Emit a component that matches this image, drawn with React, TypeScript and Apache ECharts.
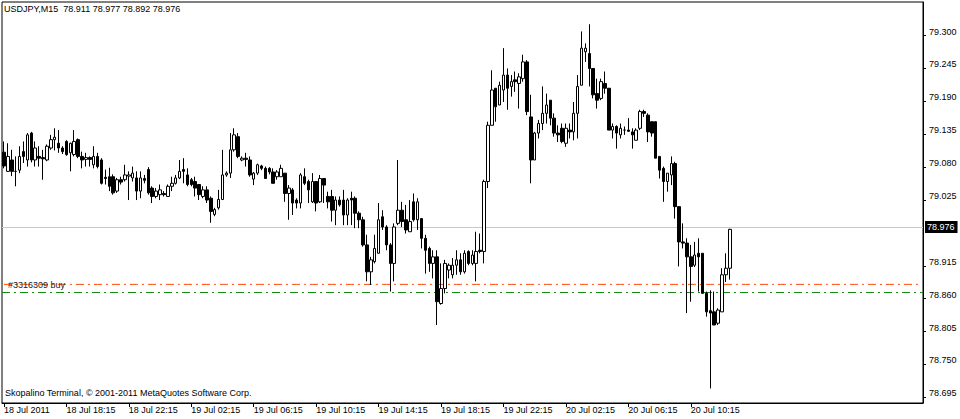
import React, { useEffect, useRef } from "react";
import * as echarts from "echarts";

const symbolTitle = "USDJPY,M15  78.911 78.977 78.892 78.976";
const copyright = "Skopalino Terminal, © 2001-2011 MetaQuotes Software Corp.";

const tickLabels = [
  "18 Jul 2011", "18 Jul 18:15", "18 Jul 22:15", "19 Jul 02:15", "19 Jul 06:15", "19 Jul 10:15",
  "19 Jul 14:15", "19 Jul 18:15", "19 Jul 22:15", "20 Jul 02:15", "20 Jul 06:15", "20 Jul 10:15",
];
const priceTicks = [78.695, 78.75, 78.805, 78.86, 78.915, 79.025, 79.08, 79.135, 79.19, 79.245, 79.3];

const opens = [
  79.105, 79.073, 79.092, 79.073, 79.075, 79.106, 79.092, 79.137, 79.092, 79.098,
  79.096, 79.092, 79.112, 79.126, 79.120, 79.112, 79.123, 79.104, 79.101, 79.126,
  79.098, 79.093, 79.096, 79.084, 79.098, 79.092, 79.063, 79.064, 79.064, 79.040,
  79.059, 79.059, 79.065, 79.062, 79.062, 79.040, 79.061, 79.076, 79.045, 79.031,
  79.034, 79.036, 79.031, 79.048, 79.053, 79.062, 79.076, 79.067, 79.059, 79.056,
  79.051, 79.031, 79.042, 79.028, 79.001, 79.012, 79.026, 79.067, 79.070, 79.109,
  79.131, 79.092, 79.095, 79.092, 79.060, 79.070, 79.082, 79.078, 79.078, 79.072,
  79.064, 79.064, 79.070, 79.036, 79.042, 79.025, 79.020, 79.064, 79.056, 79.022,
  79.056, 79.022, 79.061, 79.031, 79.031, 79.008, 79.025, 79.025, 79.000, 79.028,
  79.028, 79.003, 78.992, 78.950, 78.905, 78.922, 78.936, 78.997, 78.980, 78.950,
  78.919, 78.986, 79.008, 78.992, 78.972, 79.022, 78.992, 78.994, 78.961, 78.944,
  78.919, 78.930, 78.852, 78.877, 78.908, 78.900, 78.916, 78.925, 78.905, 78.939,
  78.919, 78.919, 78.941, 78.939, 79.056, 79.150, 79.212, 79.184, 79.209, 79.234,
  79.215, 79.226, 79.220, 79.228, 79.256, 79.164, 79.092, 79.137, 79.153, 79.170,
  79.192, 79.162, 79.137, 79.145, 79.120, 79.142, 79.139, 79.170, 79.217, 79.273,
  79.270, 79.245, 79.203, 79.195, 79.220, 79.212, 79.142, 79.148, 79.134, 79.142,
  79.142, 79.139, 79.125, 79.145, 79.173, 79.167, 79.156, 79.156, 79.098, 79.078,
  79.056, 79.067, 79.086, 79.014, 78.955, 78.953, 78.930, 78.916, 78.936, 78.936,
  78.869, 78.840, 78.838, 78.819, 78.838, 78.900, 78.911,
];
const highs = [
  79.123, 79.120, 79.109, 79.098, 79.115, 79.123, 79.137, 79.139, 79.123, 79.115,
  79.109, 79.118, 79.134, 79.145, 79.142, 79.115, 79.125, 79.121, 79.142, 79.128,
  79.106, 79.104, 79.098, 79.115, 79.104, 79.095, 79.076, 79.079, 79.068, 79.062,
  79.064, 79.084, 79.073, 79.081, 79.073, 79.073, 79.067, 79.080, 79.048, 79.045,
  79.051, 79.040, 79.051, 79.064, 79.067, 79.092, 79.095, 79.078, 79.062, 79.064,
  79.051, 79.048, 79.048, 79.031, 79.012, 79.042, 79.109, 79.073, 79.137, 79.145,
  79.137, 79.098, 79.104, 79.098, 79.072, 79.086, 79.084, 79.081, 79.080, 79.078,
  79.075, 79.084, 79.070, 79.050, 79.045, 79.028, 79.070, 79.078, 79.059, 79.070,
  79.056, 79.067, 79.061, 79.039, 79.042, 79.031, 79.031, 79.042, 79.028, 79.039,
  79.031, 79.006, 78.997, 78.967, 78.930, 78.967, 79.020, 79.008, 78.983, 78.953,
  78.986, 79.092, 79.022, 79.017, 79.025, 79.036, 79.028, 78.994, 78.967, 78.947,
  78.941, 78.941, 78.919, 78.925, 78.919, 78.928, 78.941, 78.936, 78.941, 78.941,
  78.941, 78.972, 78.969, 79.059, 79.156, 79.242, 79.212, 79.223, 79.279, 79.245,
  79.234, 79.240, 79.237, 79.268, 79.259, 79.201, 79.139, 79.159, 79.215, 79.203,
  79.192, 79.170, 79.150, 79.153, 79.153, 79.153, 79.189, 79.234, 79.307, 79.287,
  79.319, 79.245, 79.228, 79.228, 79.240, 79.212, 79.153, 79.150, 79.153, 79.148,
  79.162, 79.145, 79.145, 79.176, 79.176, 79.170, 79.156, 79.156, 79.098, 79.081,
  79.070, 79.098, 79.089, 79.014, 78.986, 78.961, 78.950, 78.955, 78.961, 78.936,
  78.872, 78.874, 78.872, 78.844, 78.911, 78.936, 78.977,
];
const lows = [
  79.078, 79.072, 79.065, 79.048, 79.070, 79.087, 79.081, 79.088, 79.081, 79.081,
  79.059, 79.090, 79.109, 79.108, 79.104, 79.102, 79.099, 79.073, 79.098, 79.095,
  79.078, 79.081, 79.081, 79.078, 79.078, 79.051, 79.051, 79.040, 79.034, 79.037,
  79.051, 79.056, 79.025, 79.056, 79.025, 79.028, 79.053, 79.034, 79.020, 79.028,
  79.025, 79.031, 79.030, 79.040, 79.051, 79.060, 79.053, 79.048, 79.048, 79.031,
  79.025, 79.028, 79.020, 78.987, 78.998, 79.009, 79.025, 79.064, 79.062, 79.106,
  79.095, 79.090, 79.081, 79.064, 79.050, 79.067, 79.075, 79.061, 79.068, 79.053,
  79.059, 79.064, 79.022, 78.992, 79.000, 79.011, 79.011, 79.050, 79.020, 79.020,
  79.006, 79.020, 79.020, 79.011, 78.989, 78.983, 79.014, 78.983, 78.983, 78.983,
  78.978, 78.978, 78.947, 78.889, 78.883, 78.919, 78.936, 78.975, 78.941, 78.872,
  78.889, 78.983, 78.980, 78.969, 78.972, 78.989, 78.975, 78.944, 78.902, 78.905,
  78.894, 78.816, 78.850, 78.869, 78.894, 78.894, 78.900, 78.900, 78.902, 78.916,
  78.916, 78.889, 78.936, 78.919, 79.045, 79.150, 79.156, 79.184, 79.189, 79.176,
  79.198, 79.206, 79.178, 79.223, 79.167, 79.053, 79.092, 79.128, 79.142, 79.153,
  79.150, 79.131, 79.122, 79.120, 79.114, 79.128, 79.125, 79.128, 79.217, 79.256,
  79.215, 79.195, 79.178, 79.192, 79.203, 79.142, 79.128, 79.111, 79.128, 79.134,
  79.139, 79.111, 79.125, 79.142, 79.164, 79.122, 79.131, 79.095, 79.061, 79.022,
  79.039, 79.050, 78.994, 78.914, 78.944, 78.836, 78.855, 78.913, 78.872, 78.869,
  78.830, 78.710, 78.816, 78.816, 78.838, 78.888, 78.892,
];
const closes = [
  79.082, 79.098, 79.073, 79.073, 79.098, 79.098, 79.134, 79.092, 79.112, 79.095,
  79.094, 79.115, 79.126, 79.130, 79.112, 79.106, 79.101, 79.120, 79.123, 79.098,
  79.092, 79.096, 79.093, 79.098, 79.081, 79.053, 79.061, 79.048, 79.037, 79.059,
  79.055, 79.067, 79.067, 79.070, 79.040, 79.062, 79.058, 79.037, 79.031, 79.040,
  79.042, 79.034, 79.048, 79.053, 79.062, 79.073, 79.073, 79.051, 79.051, 79.045,
  79.034, 79.042, 79.025, 79.006, 79.009, 79.026, 79.067, 79.070, 79.109, 79.134,
  79.098, 79.095, 79.093, 79.067, 79.070, 79.084, 79.078, 79.061, 79.072, 79.053,
  79.072, 79.078, 79.036, 79.045, 79.020, 79.020, 79.067, 79.053, 79.042, 79.056,
  79.020, 79.061, 79.050, 79.022, 79.008, 79.025, 79.017, 79.000, 79.025, 79.025,
  79.003, 78.992, 78.950, 78.905, 78.925, 78.944, 78.992, 78.980, 78.950, 78.919,
  78.980, 79.008, 78.989, 78.975, 78.989, 78.992, 79.022, 78.961, 78.941, 78.919,
  78.930, 78.855, 78.877, 78.919, 78.916, 78.916, 78.925, 78.905, 78.936, 78.919,
  78.933, 78.939, 78.939, 79.056, 79.150, 79.209, 79.181, 79.217, 79.234, 79.212,
  79.223, 79.223, 79.231, 79.256, 79.173, 79.092, 79.137, 79.153, 79.170, 79.184,
  79.162, 79.137, 79.134, 79.123, 79.145, 79.139, 79.170, 79.215, 79.279, 79.279,
  79.245, 79.201, 79.192, 79.223, 79.212, 79.142, 79.148, 79.137, 79.145, 79.142,
  79.140, 79.134, 79.142, 79.173, 79.170, 79.139, 79.137, 79.095, 79.075, 79.056,
  79.070, 79.086, 79.014, 78.955, 78.953, 78.930, 78.914, 78.933, 78.930, 78.869,
  78.838, 78.836, 78.816, 78.841, 78.900, 78.911, 78.976,
];

const lastPrice = 78.976;
const orderStopLevel = 78.884;
const orderOpenLevel = 78.872;
const orderLabel = "#3316309 buy";

const priceMin = 78.6856;
const priceMax = 79.3562;
const totalSlots = 236;
const barsPerLabel = 16;
const startTimeUtc = Date.UTC(2011, 6, 18, 14, 15);
const MONTHS = ["Jan", "Feb", "Mar", "Apr", "May", "Jun", "Jul", "Aug", "Sep", "Oct", "Nov", "Dec"];

const FONT = "'Liberation Sans', Arial, sans-serif";

function makeCategories(): string[] {
  const out: string[] = [];
  for (let i = 0; i < totalSlots; i++) {
    const d = new Date(startTimeUtc + i * 15 * 60 * 1000);
    const hh = String(d.getUTCHours()).padStart(2, "0");
    const mm = String(d.getUTCMinutes()).padStart(2, "0");
    out.push(`${d.getUTCDate()} ${MONTHS[d.getUTCMonth()]} ${hh}:${mm}`);
  }
  return out;
}

export default function App() {
  const ref = useRef<HTMLDivElement>(null);
  useEffect(() => {
    if (!ref.current) return;
    const chart = echarts.init(ref.current, undefined, { renderer: "svg" });
    const categories = makeCategories();
    const candles = opens.map((o, i) => [o, closes[i], lows[i], highs[i]]);
    const showLabel = (index: number) =>
      index % barsPerLabel === 0 && index / barsPerLabel < tickLabels.length;
    const dashDot = [8, 4, 2, 4];
    const levelLine = (value: number, color: string, type: any, label: any) => ({
      yAxis: value,
      lineStyle: { color, type, width: 1, opacity: 1 },
      emphasis: { disabled: true },
      label,
    });
    const stopLevelData = categories.map(() => orderStopLevel);
    chart.setOption({
      animation: false,
      backgroundColor: "#ffffff",
      textStyle: { fontFamily: FONT },
      title: [
        {
          text: symbolTitle,
          left: 4,
          top: 4,
          padding: 0,
          textStyle: { fontSize: 9, fontWeight: "normal", color: "#000", fontFamily: FONT },
        },
        {
          text: copyright,
          left: 5,
          top: 388,
          padding: 0,
          textStyle: { fontSize: 9, fontWeight: "normal", color: "#000", fontFamily: FONT },
        },
      ],
      grid: {
        left: 2,
        right: 37,
        top: 2,
        bottom: 16,
        show: true,
        borderColor: "#000",
        borderWidth: 1,
        backgroundColor: "transparent",
      },
      xAxis: {
        type: "category",
        data: categories,
        boundaryGap: true,
        axisLine: { show: true, lineStyle: { color: "#000", width: 1 } },
        axisTick: {
          show: true,
          alignWithLabel: true,
          length: 4,
          interval: (index: number) => showLabel(index),
          lineStyle: { color: "#000" },
        },
        axisLabel: {
          show: true,
          interval: (index: number) => showLabel(index),
          formatter: (_v: string, index: number) => tickLabels[index / barsPerLabel] ?? "",
          align: "left",
          margin: 2,
          fontSize: 9,
          color: "#000",
          fontFamily: FONT,
        },
        splitLine: { show: false },
      },
      yAxis: {
        type: "value",
        position: "right",
        min: priceMin,
        max: priceMax,
        scale: true,
        axisLine: { show: true, lineStyle: { color: "#000", width: 1 } },
        axisTick: {
          show: true,
          length: 3,
          customValues: priceTicks,
          lineStyle: { color: "#000" },
        },
        axisLabel: {
          show: true,
          customValues: priceTicks,
          formatter: (v: number) => v.toFixed(3),
          margin: 6,
          fontSize: 9,
          color: "#000",
          fontFamily: FONT,
          verticalAlign: "bottom",
          lineHeight: 8,
        },
        splitLine: { show: false },
      },
      series: [
        {
          type: "line",
          data: [],
          z: 1,
          silent: true,
          markLine: {
            silent: true,
            symbol: ["none", "none"],
            animation: false,
            data: [
              levelLine(lastPrice, "#c8c8c8", "solid", {
                show: true,
                position: "end",
                distance: 2,
                formatter: () => lastPrice.toFixed(3),
                backgroundColor: "#000",
                color: "#fff",
                fontSize: 9,
                fontFamily: FONT,
                padding: [2, 3, 1, 2],
              }),
            ],
          },
        },
        {
          name: "stop",
          type: "line",
          data: stopLevelData,
          z: 2,
          silent: true,
          symbol: "none",
          showSymbol: false,
          connectNulls: true,
          color: "#ff4500",
          lineStyle: { color: "#ff4500", width: 1, type: dashDot, opacity: 1 },
          itemStyle: { color: "#ff4500" },
          emphasis: { disabled: true },
        },
        {
          type: "line",
          data: [],
          z: 2,
          silent: true,
          color: "#138a13",
          markLine: {
            silent: true,
            symbol: ["none", "none"],
            animation: false,
            data: [
              levelLine(orderOpenLevel, "#138a13", dashDot, {
                show: true,
                position: "insideStartTop",
                distance: [6, 3],
                formatter: () => orderLabel,
                color: "#222",
                fontSize: 9,
                fontFamily: FONT,
              }),
            ],
          },
        },
        {
          type: "candlestick",
          data: candles,
          z: 5,
          barWidth: 3,
          itemStyle: {
            color: "#ffffff",
            color0: "#000000",
            borderColor: "#000000",
            borderColor0: "#000000",
            borderWidth: 1,
          },
        },
      ],
    });
    return () => chart.dispose();
  }, []);
  return (
    <div
      ref={ref}
      style={{ position: "absolute", left: 0, top: 0, width: 960, height: 419 }}
    />
  );
}
